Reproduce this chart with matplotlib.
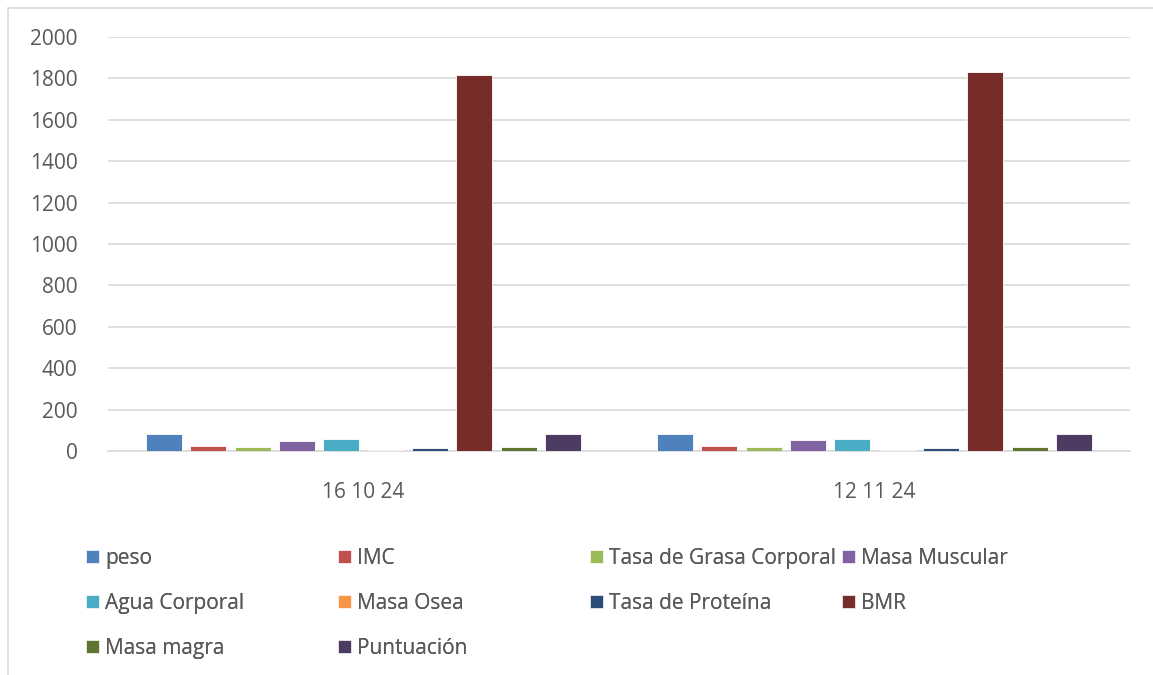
"""Bar chart of body composition measurements on two dates."""

import matplotlib

matplotlib.use("Agg")
import matplotlib.pyplot as plt
import numpy as np
from matplotlib.patches import Patch, Rectangle

DATES = ["16 10 24", "12 11 24"]
METRICS = [
    "peso",
    "IMC",
    "Tasa de Grasa Corporal",
    "Masa Muscular",
    "Agua Corporal",
    "Masa Osea",
    "Tasa de Proteína",
    "BMR",
    "Masa magra",
    "Puntuación",
]
VALUES = {
    "peso": [84, 84],
    "IMC": [26, 26],
    "Tasa de Grasa Corporal": [20, 20],
    "Masa Muscular": [49, 51],
    "Agua Corporal": [56, 56],
    "Masa Osea": [3, 3],
    "Tasa de Proteína": [16, 16],
    "BMR": [1818, 1833],
    "Masa magra": [17, 17],
    "Puntuación": [82, 82],
}
COLORS = [
    "#4F81BD", "#C0504D", "#9BBB59", "#8064A2", "#4BACC6",
    "#F79646", "#2C4D75", "#772C2A", "#5F7530", "#4D3B62",
]
Y_TICKS = np.arange(0, 2001, 200)

TEXT = "#595959"
GRID = "#d9d9d9"
FS = 15

plt.rcParams["font.family"] = ["Open Sans", "DejaVu Sans"]

W, H = 1153, 675
fig = plt.figure(figsize=(W / 100, H / 100), dpi=100)
ax = fig.add_axes([108 / W, 1 - 451 / H, (1130 - 108) / W, (451 - 37) / H])

x = np.arange(len(DATES))
slot = 0.0868
bar_w = 0.0705
offsets = (np.arange(len(METRICS)) - (len(METRICS) - 1) / 2) * slot
for name, color, off in zip(METRICS, COLORS, offsets):
    ax.bar(x + off, VALUES[name], width=bar_w, color=color,
           edgecolor="white", linewidth=0.6, zorder=3)

ax.set_xlim(-0.5, len(DATES) - 0.5)
ax.set_ylim(0, 2000)
ax.set_yticks(Y_TICKS)
ax.set_xticks(x)
ax.set_xticklabels(DATES)
ax.yaxis.grid(True, color=GRID, linewidth=1.2, zorder=0)
for side in ("top", "right", "left"):
    ax.spines[side].set_visible(False)
ax.spines["bottom"].set_color(GRID)
ax.spines["bottom"].set_linewidth(1.2)
ax.tick_params(axis="both", length=0, colors=TEXT, labelsize=FS)
ax.tick_params(axis="y", pad=22)
ax.tick_params(axis="x", pad=22)

# outer chart border
fig.patches.append(Rectangle((8 / W, -0.01), 1.02, 1 - 8 / H + 0.01,
                             transform=fig.transFigure, fill=False,
                             edgecolor=GRID, linewidth=1.2))

# legend laid out row-wise like the spreadsheet, one legend per column
col_x = [86, 338, 590, 842]
handles = [Patch(facecolor=c, edgecolor="white", linewidth=0.5) for c in COLORS]
for col in range(4):
    idx = list(range(col, len(METRICS), 4))
    leg = fig.legend([handles[i] for i in idx], [METRICS[i] for i in idx],
                     loc="upper left", bbox_to_anchor=(col_x[col] / W, 1 - 548 / H),
                     frameon=False, fontsize=FS, labelcolor=TEXT,
                     handlelength=0.62, handleheight=0.62, handletextpad=0.3,
                     labelspacing=1.15, borderpad=0, borderaxespad=0)
    fig.add_artist(leg)

fig.savefig("out.png", dpi=100)
